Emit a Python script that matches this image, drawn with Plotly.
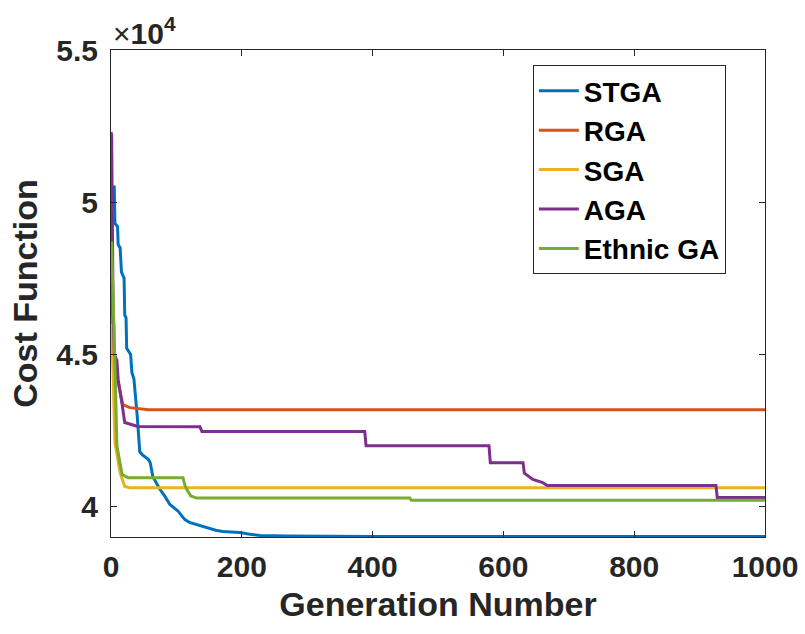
import plotly.graph_objects as go

# Data (generation, cost)
stga_gen = [0, 5, 6, 10, 11, 14, 16, 20, 21, 23, 24, 30, 32, 35, 40, 44, 48, 57, 60, 64, 70, 75, 82, 90, 97, 103,
            108, 113, 120, 131, 140, 151, 160, 171, 185, 197, 210, 228, 269, 400, 1000]
stga_val = [50500, 50500, 49300, 49200, 48600, 48500, 47700, 47500, 46300, 46200, 45200, 45000, 44400, 44200, 43000,
            41800, 41700, 41550, 41440, 40980, 40750, 40560, 40350, 40070, 39950, 39840, 39700, 39570, 39480, 39410,
            39350, 39280, 39220, 39180, 39160, 39150, 39100, 39050, 39030, 39020, 39020]

rga_gen = [0, 3, 5, 10, 14, 18, 29, 57, 1000]
rga_val = [49000, 45500, 44700, 44200, 43740, 43350, 43250, 43180, 43180]

sga_gen = [0, 3, 6, 14, 21, 29, 1000]
sga_val = [46000, 44500, 42100, 41100, 40660, 40620, 40620]

aga_gen = [0, 1, 3, 5, 9, 11, 17, 21, 41, 136, 139, 388, 390, 578, 580, 630, 632, 645, 660, 667, 925, 927, 1000]
aga_val = [52300, 52200, 47000, 45000, 44800, 44170, 43350, 42760, 42630, 42620, 42470, 42470, 42000, 42000,
           41440, 41440, 41100, 40890, 40790, 40690, 40690, 40300, 40300]

ega_gen = [0, 1, 6, 9, 17, 26, 110, 113, 116, 122, 131, 457, 459, 1000]
ega_val = [48700, 48660, 44700, 42000, 41050, 40950, 40950, 40700, 40560, 40350, 40280, 40280, 40210, 40210]

names = ["STGA", "RGA", "SGA", "AGA", "Ethnic GA"]
colors = ["#0072BD", "#D95319", "#EDB120", "#7E2F8E", "#77AC30"]
series = [(stga_gen, stga_val), (rga_gen, rga_val), (sga_gen, sga_val), (aga_gen, aga_val), (ega_gen, ega_val)]

y_tickvals = [40000, 45000, 50000, 55000]
y_ticktext = ["4", "4.5", "5", "5.5"]
x_tickvals = [0, 200, 400, 600, 800, 1000]

fig = go.Figure()
for (g, v), n, c in zip(series, names, colors):
    fig.add_trace(go.Scatter(x=g, y=v, mode="lines", name=n, line=dict(color=c, width=3)))

font_family = "Liberation Sans, Arial, sans-serif"
axis_color = "#262626"

fig.update_layout(
    width=805, height=634,
    margin=dict(l=111, r=40, t=50, b=97, autoexpand=False),
    paper_bgcolor="white", plot_bgcolor="white",
    font=dict(family=font_family, color=axis_color),
    showlegend=True,
    legend=dict(x=0.645, y=0.969, xanchor="left", yanchor="top",
                bgcolor="white", bordercolor="#262626", borderwidth=1,
                font=dict(size=28, color="black", family=font_family, weight="bold"),
                itemwidth=40, tracegroupgap=0),
    xaxis=dict(range=[0, 1000], tickvals=x_tickvals, ticks="inside", ticklen=6, tickcolor=axis_color,
               showline=True, linecolor=axis_color, linewidth=1, mirror="ticks", showgrid=False, zeroline=False,
               automargin=False,
               tickfont=dict(size=30, weight="bold", color=axis_color), ticklabelstandoff=3,
               title=dict(text="Generation Number", font=dict(size=34, weight="bold", color=axis_color), standoff=10)),
    yaxis=dict(range=[39000, 55000], tickvals=y_tickvals, ticktext=y_ticktext, ticks="inside", ticklen=6,
               tickcolor=axis_color, showline=True, linecolor=axis_color, linewidth=1, mirror="ticks",
               showgrid=False, zeroline=False, ticklabelstandoff=6, automargin=False,
               tickfont=dict(size=30, weight="bold", color=axis_color),
               title=dict(text="Cost Function", font=dict(size=34, weight="bold", color=axis_color), standoff=8)),
    annotations=[dict(text="×<b>10<sup>4</sup></b>", xref="paper", yref="paper", x=0.0, y=1.0,
                      xanchor="left", yanchor="bottom", showarrow=False, yshift=-2,
                      font=dict(size=30, color=axis_color, family=font_family))],
)

fig.write_html("out.html")
